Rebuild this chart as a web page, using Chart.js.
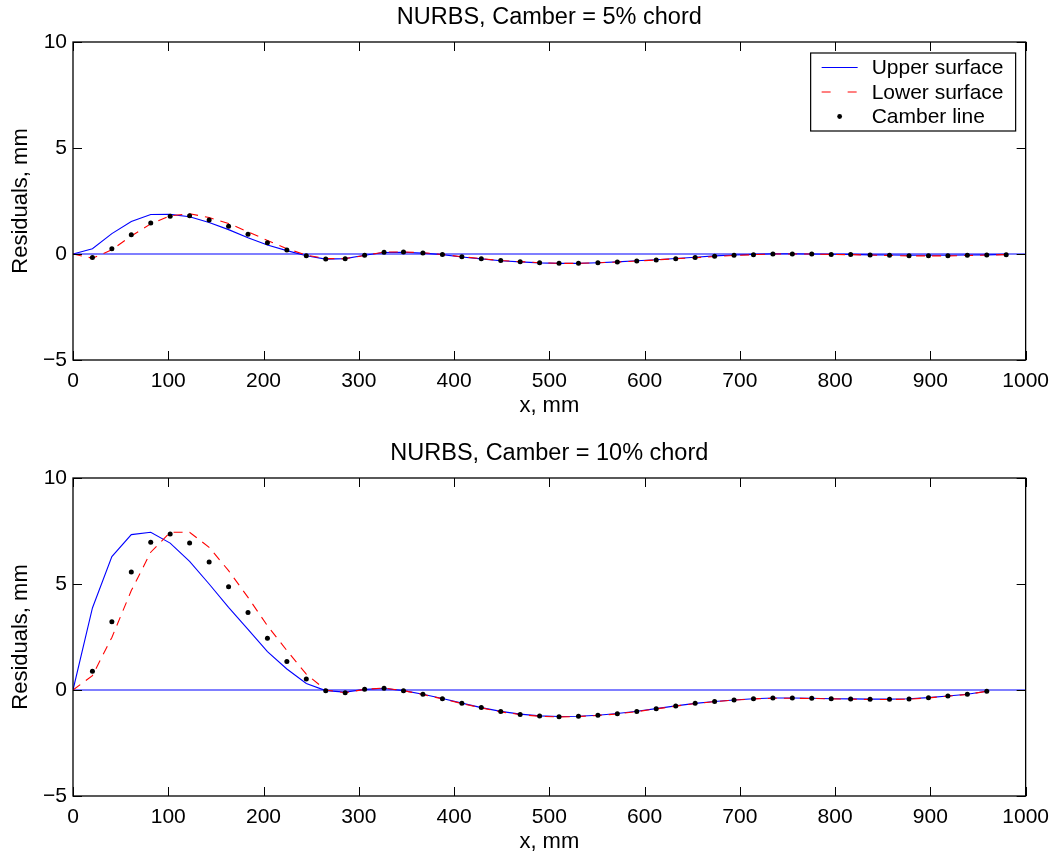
<!DOCTYPE html>
<html>
<head>
<meta charset="utf-8">
<script src="https://cdn.jsdelivr.net/npm/chart.js@4"></script>
<style>
  html, body { margin: 0; padding: 0; background: #fff; overflow: hidden; }
  #wrap { position: relative; width: 1058px; height: 856px; overflow: hidden; }
  canvas { position: absolute; left: 0; }
  #topChart { top: 0; }
  #bottomChart { top: 436px; }
</style>
</head>
<body>
<div id="wrap">
  <canvas id="topChart" width="1058" height="428"></canvas>
  <canvas id="bottomChart" width="1058" height="428"></canvas>
</div>
<script>
// x stations along the chord, mm (49 equal intervals)
const xStations = [0, 20.4, 40.8, 61.2, 81.6, 102, 122.4, 142.9, 163.3, 183.7, 204.1, 224.5, 244.9, 265.3,
  285.7, 306.1, 326.5, 346.9, 367.3, 387.8, 408.2, 428.6, 449, 469.4, 489.8, 510.2, 530.6, 551, 571.4,
  591.8, 612.2, 632.7, 653.1, 673.5, 693.9, 714.3, 734.7, 755.1, 775.5, 795.9, 816.3, 836.7, 857.1,
  877.6, 898, 918.4, 938.8, 959.2, 979.6, 1000];

const xTicks = [0, 100, 200, 300, 400, 500, 600, 700, 800, 900, 1000];
const yTicks = [-5, 0, 5, 10];
const seriesNames = ['Upper surface', 'Lower surface', 'Camber line'];

// Camber = 5% chord, stations 0..48
const upper5 = [0, 0.25, 0.96, 1.53, 1.86, 1.87, 1.76, 1.49, 1.15, 0.77, 0.42, 0.16, -0.08, -0.24,
  -0.22, -0.06, 0.07, 0.08, 0.04, -0.03, -0.14, -0.23, -0.32, -0.37, -0.42, -0.44, -0.44, -0.41, -0.37,
  -0.32, -0.27, -0.21, -0.15, -0.09, -0.05, -0.02, 0.01, 0.01, 0, -0.01, -0.02, -0.04, -0.05, -0.06,
  -0.06, -0.06, -0.05, -0.04, -0.02];
const lower5 = [0, -0.2, 0.2, 0.85, 1.42, 1.8, 1.9, 1.72, 1.44, 1.05, 0.64, 0.25, -0.05, -0.22,
  -0.22, -0.07, 0.09, 0.1, 0.06, -0.02, -0.13, -0.22, -0.31, -0.36, -0.41, -0.44, -0.44, -0.41, -0.38,
  -0.33, -0.28, -0.22, -0.18, -0.12, -0.07, -0.03, 0, 0, 0, -0.02, -0.03, -0.05, -0.07, -0.09,
  -0.09, -0.09, -0.07, -0.05, -0.03];
// camber points start at station 1
const camber5 = [-0.16, 0.25, 0.91, 1.46, 1.78, 1.80, 1.60, 1.31, 0.93, 0.53, 0.19, -0.08, -0.23,
  -0.22, -0.06, 0.08, 0.09, 0.05, -0.02, -0.13, -0.22, -0.31, -0.36, -0.41, -0.44, -0.44, -0.41, -0.38,
  -0.33, -0.28, -0.22, -0.17, -0.11, -0.06, -0.03, 0, 0, 0, -0.02, -0.02, -0.05, -0.06, -0.08,
  -0.08, -0.08, -0.06, -0.05, -0.03];

// Camber = 10% chord, stations 0..47
const upper10 = [0, 3.87, 6.29, 7.33, 7.44, 6.93, 6.07, 5.0, 3.9, 2.86, 1.81, 0.99, 0.31, -0.03,
  -0.1, 0.03, 0.07, -0.03, -0.2, -0.4, -0.62, -0.83, -1.01, -1.14, -1.22, -1.25, -1.24, -1.19, -1.11,
  -1.0, -0.88, -0.75, -0.63, -0.54, -0.47, -0.41, -0.38, -0.38, -0.39, -0.41, -0.42, -0.43, -0.43,
  -0.41, -0.36, -0.28, -0.2, -0.06];
const lower10 = [0, 0.68, 2.48, 4.69, 6.5, 7.44, 7.44, 6.73, 5.63, 4.37, 3.03, 1.86, 0.75, 0,
  -0.13, 0.03, 0.09, -0.03, -0.21, -0.42, -0.64, -0.84, -1.03, -1.16, -1.24, -1.27, -1.25, -1.2, -1.13,
  -1.02, -0.89, -0.76, -0.64, -0.55, -0.48, -0.42, -0.39, -0.39, -0.4, -0.42, -0.43, -0.45, -0.45,
  -0.43, -0.37, -0.29, -0.21, -0.06];
const camber10 = [0.88, 3.22, 5.57, 6.97, 7.36, 6.93, 6.04, 4.87, 3.65, 2.44, 1.35, 0.52, -0.03,
  -0.13, 0.03, 0.08, -0.03, -0.2, -0.41, -0.63, -0.83, -1.02, -1.15, -1.23, -1.26, -1.24, -1.19, -1.12,
  -1.01, -0.88, -0.75, -0.63, -0.54, -0.47, -0.41, -0.38, -0.38, -0.39, -0.41, -0.42, -0.44, -0.44,
  -0.42, -0.36, -0.28, -0.2, -0.06];

const zeroLineX = [0, 1000];
const zeroLineY = [0, 0];

const FONT = 'Liberation Sans, Arial, Helvetica, sans-serif';
const BLUE = '#0000ff';
const RED = '#ff0000';

const pts = (xs, ys, offset = 0) => ys.map((y, i) => ({ x: xs[i + offset], y: y }));
const fmtTick = v => (v < 0 ? '\u2212' + Math.abs(v) : String(v));

// title centred over the plot box, like matlab does it
const axesTitle = {
  id: 'axesTitle',
  afterDraw(chart, args, opts) {
    const { ctx, chartArea: a } = chart;
    ctx.save();
    ctx.font = '23.5px ' + FONT;
    ctx.fillStyle = '#000';
    ctx.textAlign = 'center';
    ctx.textBaseline = 'middle';
    ctx.fillText(opts.text, (a.left + a.right) / 2, 18);
    ctx.restore();
  }
};

// MATLAB-like box with inward ticks
const boxPlugin = {
  id: 'boxPlugin',
  afterDatasetsDraw(chart) {
    const { ctx, chartArea: a, scales } = chart;
    const len = 9;
    ctx.save();
    ctx.strokeStyle = '#000';
    ctx.lineWidth = 1;
    ctx.beginPath();
    scales.x.ticks.forEach(t => {
      const px = Math.round(scales.x.getPixelForValue(t.value)) + 0.5;
      ctx.moveTo(px, a.bottom); ctx.lineTo(px, a.bottom - len);
      ctx.moveTo(px, a.top); ctx.lineTo(px, a.top + len);
    });
    scales.y.ticks.forEach(t => {
      const py = Math.round(scales.y.getPixelForValue(t.value)) + 0.5;
      ctx.moveTo(a.left, py); ctx.lineTo(a.left + len, py);
      ctx.moveTo(a.right, py); ctx.lineTo(a.right - len, py);
    });
    ctx.stroke();
    ctx.lineWidth = 1.3;
    ctx.strokeRect(a.left, a.top, a.right - a.left, a.bottom - a.top);
    ctx.restore();
  }
};

// legend box in the upper right corner (top chart only)
const legendPlugin = {
  id: 'cornerLegend',
  afterDraw(chart, args, opts) {
    if (!opts.show) return;
    const { ctx, chartArea: a } = chart;
    const w = 205, h = 78;
    const left = a.right - 10 - w, top = a.top + 11;
    ctx.save();
    ctx.fillStyle = '#fff';
    ctx.fillRect(left, top, w, h);
    ctx.strokeStyle = '#000';
    ctx.lineWidth = 1.2;
    ctx.strokeRect(left, top, w, h);
    ctx.font = '21px ' + FONT;
    ctx.textBaseline = 'middle';
    const rows = [14.5, 39, 63.5];
    seriesNames.forEach((name, i) => {
      const y = top + rows[i];
      ctx.lineWidth = 1;
      if (i === 0) {
        ctx.strokeStyle = BLUE; ctx.setLineDash([]);
        ctx.beginPath(); ctx.moveTo(left + 11, y); ctx.lineTo(left + 47, y); ctx.stroke();
      } else if (i === 1) {
        ctx.strokeStyle = RED; ctx.setLineDash([9, 17]);
        ctx.beginPath(); ctx.moveTo(left + 11, y); ctx.lineTo(left + 47, y); ctx.stroke();
      } else {
        ctx.fillStyle = '#000';
        ctx.beginPath(); ctx.arc(left + 29, y, 2.4, 0, Math.PI * 2); ctx.fill();
      }
      ctx.setLineDash([]);
      ctx.fillStyle = '#000';
      ctx.fillText(name, left + 61, y + 1);
    });
    ctx.restore();
  }
};

function makeChart(canvasId, title, upper, lower, camber, showLegend) {
  const ctx = document.getElementById(canvasId).getContext('2d');
  return new Chart(ctx, {
    type: 'line',
    data: {
      datasets: [
        {
          label: seriesNames[2],
          data: pts(xStations, camber, 1),
          showLine: false,
          pointRadius: 2.5,
          pointBackgroundColor: '#000',
          pointBorderWidth: 0,
          order: 0
        },
        {
          label: seriesNames[1],
          data: pts(xStations, lower),
          borderColor: RED,
          borderWidth: 1.1,
          borderDash: [9, 7],
          pointRadius: 0,
          tension: 0,
          order: 1
        },
        {
          label: seriesNames[0],
          data: pts(xStations, upper),
          borderColor: BLUE,
          borderWidth: 1.1,
          pointRadius: 0,
          tension: 0,
          order: 2
        },
        {
          label: 'zero',
          data: pts(zeroLineX, zeroLineY),
          borderColor: BLUE,
          borderWidth: 1.1,
          pointRadius: 0,
          order: 3
        }
      ]
    },
    options: {
      responsive: false,
      animation: false,
      devicePixelRatio: 1,
      layout: { padding: { top: 42, right: 30, bottom: 0, left: 0 } },
      plugins: {
        legend: { display: false },
        tooltip: { enabled: false },
        title: { display: false },
        axesTitle: { text: title },
        cornerLegend: { show: showLegend }
      },
      scales: {
        x: {
          type: 'linear',
          min: 0,
          max: 1000,
          afterBuildTicks: s => { s.ticks = xTicks.map(v => ({ value: v })); },
          afterFit: s => { s.height = 68; },
          grid: { display: false, drawTicks: false },
          border: { display: false },
          ticks: { color: '#000', padding: 9, maxRotation: 0, callback: fmtTick, font: { family: FONT, size: 21 } },
          title: {
            display: true,
            text: 'x, mm',
            color: '#000',
            font: { family: FONT, size: 22, lineHeight: 1.2 },
            padding: { top: 0, bottom: 8.8 }
          }
        },
        y: {
          type: 'linear',
          min: -5,
          max: 10,
          afterBuildTicks: s => { s.ticks = yTicks.map(v => ({ value: v })); },
          afterFit: s => { s.width = 73; },
          grid: { display: false, drawTicks: false },
          border: { display: false },
          ticks: { color: '#000', padding: 6, callback: fmtTick, font: { family: FONT, size: 21 } },
          title: {
            display: true,
            text: 'Residuals, mm',
            color: '#000',
            font: { family: FONT, size: 22, lineHeight: 1.2 },
            padding: { top: 8, bottom: 0 }
          }
        }
      }
    },
    plugins: [boxPlugin, legendPlugin, axesTitle]
  });
}

makeChart('topChart', 'NURBS, Camber = 5% chord', upper5, lower5, camber5, true);
makeChart('bottomChart', 'NURBS, Camber = 10% chord', upper10, lower10, camber10, false);
</script>
</body>
</html>
